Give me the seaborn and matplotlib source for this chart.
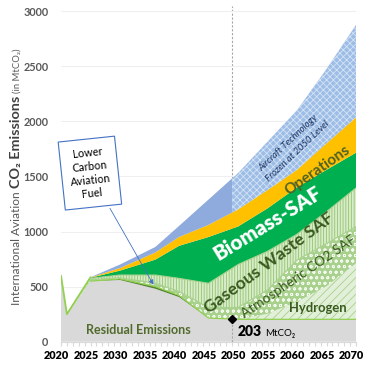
import numpy as np
import matplotlib
matplotlib.use("Agg")
import matplotlib.pyplot as plt
import seaborn as sns
from matplotlib.patches import Rectangle
from matplotlib.transforms import ScaledTranslation

# ---------------- data (MtCO2, stacked layer thicknesses) ----------------
YEARS = [2020, 2021, 2025, 2030, 2036, 2040, 2045, 2050, 2055, 2060, 2065, 2070]
residual    = [600, 250, 550, 560, 480, 405, 215, 203, 203, 203, 203, 203]
lcaf        = [0, 0, 0, 10, 20, 15, 0, 0, 0, 0, 0, 0]
hydrogen    = [0, 0, 0, 0, 0, 0, 0, 0, 50, 160, 300, 508]
atmospheric = [0, 0, 12, 10, 30, 35, 95, 107, 217, 377, 387, 334]
gaseous     = [0, 0, 13, 25, 75, 120, 220, 390, 350, 235, 290, 350]
biomass     = [0, 0, 5, 40, 140, 295, 420, 345, 390, 425, 380, 320]
operations  = [0, 0, 3, 23, 65, 80, 110, 155, 166, 160, 240, 320]
technology  = [0, 0, 2, 32, 50, 100, 230, 330, 439, 540, 675, 840]

X_TICKS = [2020, 2025, 2030, 2035, 2040, 2045, 2050, 2055, 2060, 2065, 2070]
Y_TICKS = [0, 500, 1000, 1500, 2000, 2500, 3000]
FROZEN_YEAR = 2049          # position of the dashed "2050" divider in the picture
RESIDUAL_2050 = 203

# ---------------- style ----------------
sns.set_theme(style="white")
plt.rcParams["font.family"] = ["Lato", "DejaVu Sans"]
plt.rcParams["hatch.linewidth"] = 0.6

fig = plt.figure(figsize=(3.72, 3.70), dpi=100)
ax = fig.add_axes([61 / 372, 28.3 / 370, 295 / 372, 336.1 / 370])

x = np.array(YEARS, dtype=float)
layers = [residual, lcaf, hydrogen, atmospheric, gaseous, biomass, operations, technology]
tops = np.cumsum(np.array(layers, dtype=float), axis=0)
bots = np.vstack([np.zeros(len(x)), tops[:-1]])

# dashed divider (behind areas) + segment over residual area
ax.vlines(FROZEN_YEAR, 0, 3050, colors="#A6A6A6", linestyles=(0, (2, 1.5)), lw=0.8, zorder=0.5)

styles = [
    dict(facecolor="#D9D9D9", edgecolor="none"),                                   # residual
    dict(facecolor="#548235", edgecolor="none"),                                   # LCAF
    dict(facecolor="#E2F0D9", edgecolor="#A9D18E", hatch="////", linewidth=0),     # hydrogen
    dict(facecolor="#A9D18E", edgecolor="#F4FAEF", hatch="ooo", linewidth=0),      # atmospheric CO2
    dict(facecolor="#D8ECC9", edgecolor="#93C572", hatch="||||||", linewidth=0),   # gaseous waste
    dict(facecolor="#00B050", edgecolor="none"),                                   # biomass
    dict(facecolor="#FFC000", edgecolor="none"),                                   # operations
]
for i, st in enumerate(styles):
    ax.fill_between(x, bots[i], tops[i], zorder=2, **st)

# aircraft technology: solid before the divider, hatched after it
solid = ax.fill_between(x, bots[7], tops[7], facecolor="#8FAADC", edgecolor="none", zorder=2)
solid.set_clip_path(Rectangle((2019, -10), FROZEN_YEAR - 2019, 4000, transform=ax.transData))
hat = ax.fill_between(x, bots[7], tops[7], facecolor="#9DBDE6", edgecolor="#D4E3F5",
                      hatch="xxxxx", linewidth=0, zorder=2)
hat.set_clip_path(Rectangle((FROZEN_YEAR, -10), 30, 4000, transform=ax.transData))

# boundary lines
sns.lineplot(x=x[:3], y=tops[-1][:3], color="#92D050", lw=1.3, ax=ax, zorder=3)
ax.plot(x[2:], tops[1][2:], color="#92D050", lw=0.9, zorder=3)
ax.plot(x[2:], tops[3][2:], color="#A9D18E", lw=0.9, zorder=3)
ax.plot(x[2:], tops[4][2:], color="#A9D18E", lw=0.8, zorder=3)

ax.vlines(FROZEN_YEAR, 0, RESIDUAL_2050, colors="#A6A6A6", linestyles=(0, (2, 1.5)), lw=0.8, zorder=4)
ax.plot([FROZEN_YEAR], [RESIDUAL_2050], marker="D", color="black", ms=4.5, zorder=5, clip_on=False)

# ---------------- axes ----------------
ax.set_xlim(2020, 2070)
ax.set_ylim(0, 3050)
ax.set_yticks(Y_TICKS)
ax.set_yticklabels([str(v) for v in Y_TICKS], fontsize=7.8, fontweight="bold", color="#595959")
ax.set_xticks(X_TICKS)
ax.set_xticklabels([str(v) for v in X_TICKS], fontsize=7.8, fontweight="heavy", color="black")
ax.set_xticks(range(2020, 2071), minor=True)
ax.tick_params(axis="y", length=0, pad=9)
ax.tick_params(axis="x", which="both", length=3, color="#D9D9D9", width=0.8, pad=3, direction="out",
               bottom=True)
for lab in ax.get_xticklabels():
    lab.set_transform(lab.get_transform() + ScaledTranslation(-4.5 / 100, 0, fig.dpi_scale_trans))
ax.grid(axis="y", color="#EFEFEF", lw=0.8)
ax.set_axisbelow(True)
for s in ["left", "right", "top"]:
    ax.spines[s].set_visible(False)
ax.spines["bottom"].set_color("#D9D9D9")
ax.spines["bottom"].set_linewidth(0.8)

# ---------------- annotations ----------------
dg = "#3A5A1F"
ax.text(2033.05, 106, "Residual Emissions", ha="center", va="center", fontsize=9,
        fontweight="bold", color="#526B2C", zorder=6)
ax.text(2063.6, 306, "Hydrogen", ha="center", va="center", fontsize=9.4,
        fontweight="bold", color=dg, zorder=6)
ax.text(2055.1, 1075, "Biomass-SAF", ha="center", va="center", rotation=31.5, rotation_mode="anchor",
        fontsize=14.8, fontweight="heavy", color="white", zorder=6)
ax.text(2055.25, 711, "Gaseous Waste SAF", ha="center", va="center", rotation=36.7,
        rotation_mode="anchor", fontsize=12.6, fontweight="bold", color=dg, zorder=6)
ax.text(2060.2, 587, "Atmospheric CO2 SAF", ha="center", va="center", rotation=34.4,
        rotation_mode="anchor", fontsize=9.8, color=dg, zorder=6)
ax.text(2063.4, 1557, "Operations", ha="center", va="center", rotation=35, rotation_mode="anchor",
        fontsize=11, fontweight="bold", color="#4F6228", zorder=6)
ax.text(2059.3, 1766, "Aircraft Technology\nFrozen at 2050 Level", ha="center", va="center",
        rotation=43.5, rotation_mode="anchor", fontsize=6.8, style="italic", color="#203864",
        linespacing=1.5, zorder=6)
ax.text(2050.0, 52, "203", ha="left", va="baseline", fontsize=10, fontweight="heavy",
        color="black", zorder=6)
ax.text(2054.6, 52, "MtCO₂", ha="left", va="baseline", fontsize=7, color="black", zorder=6)

ax.annotate("Lower\nCarbon\nAviation\nFuel", xy=(2035.9, 495), xytext=(2024.9, 1530),
            textcoords="data", ha="center", va="center", multialignment="center",
            rotation=6, fontsize=7.8, color="black", linespacing=1.3, zorder=7,
            bbox=dict(boxstyle="square,pad=0.75", fc="white", ec="#4472C4", lw=0.8),
            arrowprops=dict(arrowstyle="-|>", color="#4472C4", lw=0.6, mutation_scale=7))

# ---------------- y-axis title in three pieces ----------------
fig.canvas.draw()
r = fig.canvas.get_renderer()
xl = 16 / 372
t1 = fig.text(xl, 65 / 370, "International Aviation ", rotation=90, rotation_mode="anchor",
              ha="left", va="center", fontsize=8.6, color="#595959")
fig.canvas.draw()
y_next = t1.get_window_extent(r).y1 / fig.bbox.height
t2 = fig.text(xl, y_next, "CO₂ Emissions ", rotation=90, rotation_mode="anchor",
              ha="left", va="center", fontsize=10.4, fontweight="bold", color="#404040")
fig.canvas.draw()
y_next = t2.get_window_extent(r).y1 / fig.bbox.height
fig.text(xl + 0.003, y_next, "(in MtCO₂)", rotation=90, rotation_mode="anchor",
         ha="left", va="center", fontsize=6.8, color="#595959")

fig.savefig("out.png", dpi=100)
